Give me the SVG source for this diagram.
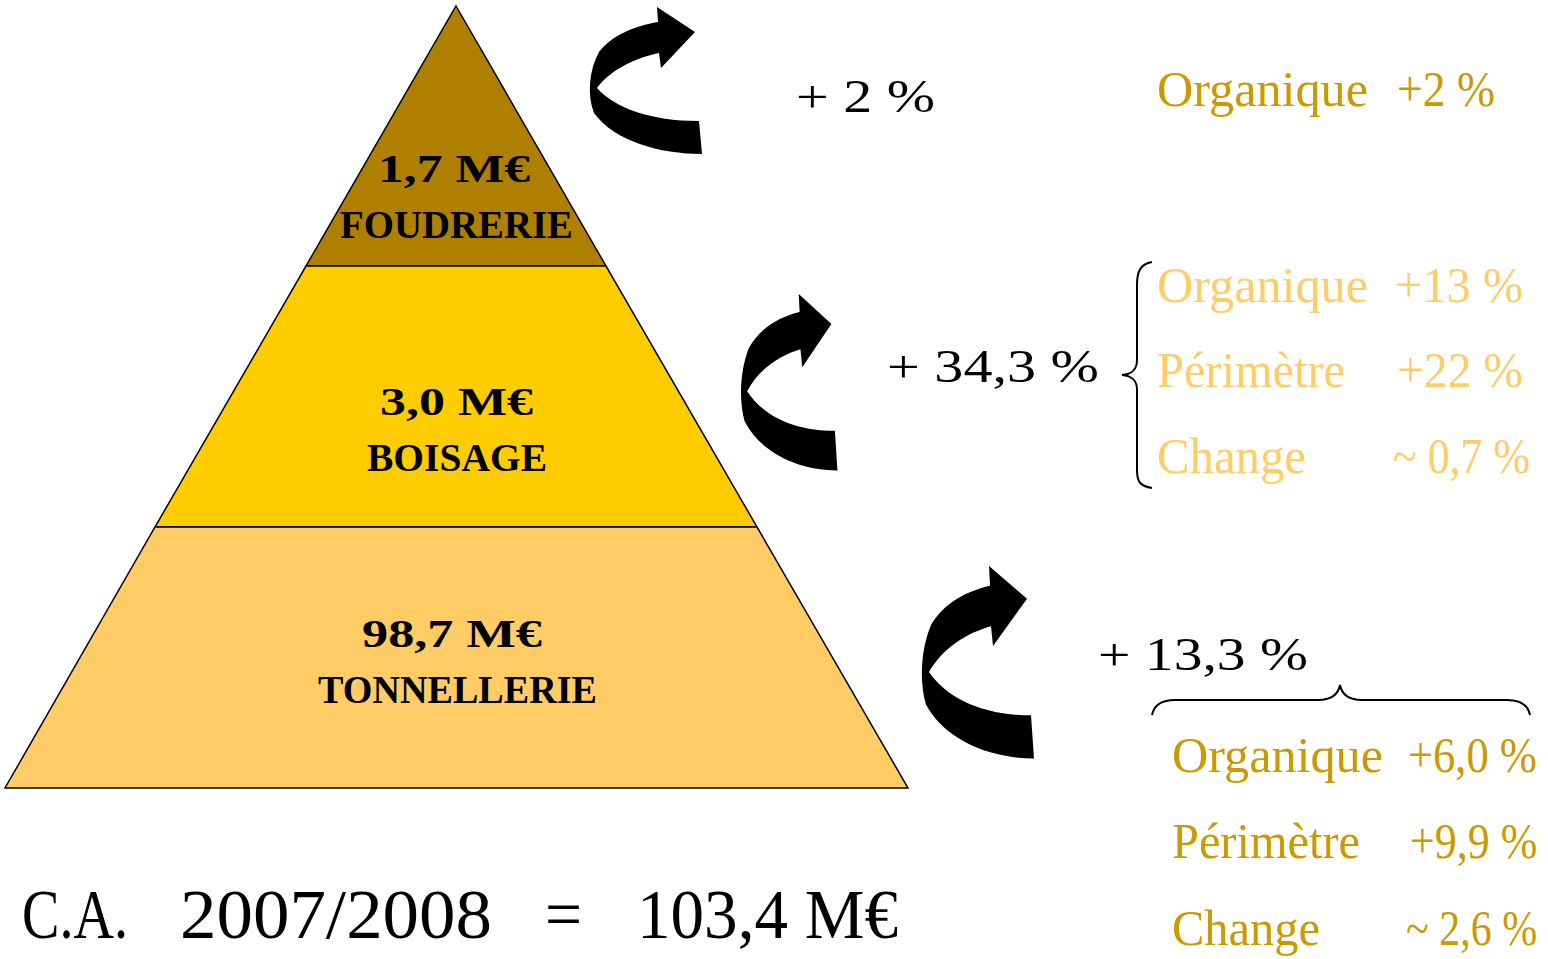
<svg xmlns="http://www.w3.org/2000/svg" xmlns:xlink="http://www.w3.org/1999/xlink" width="1548" height="959" viewBox="0 0 1548 959" xml:space="preserve">
<style>
.seg{stroke:#000;stroke-width:1.5;stroke-linejoin:miter}
.pt{font-family:"Liberation Serif",serif;font-size:41px;font-weight:bold;fill:#000}
.pct{font-family:"Liberation Serif",serif;font-size:46px;fill:#000}
.dk{font-family:"Liberation Serif",serif;font-size:50px;fill:#CC9900}
.lt{font-family:"Liberation Serif",serif;font-size:50px;fill:#FFCC66}
.tot{font-family:"Liberation Serif",serif;font-size:70px;fill:#000}
.brace{fill:none;stroke:#000;stroke-width:2}
.arr{fill:#000}
</style>
<defs>
<path id="arrow" d="M 702 154 C 660 154 614 141 594 113 C 587 95 589 70 599 52 C 612 35 635 26 658 22 L 657 7 L 695 32 L 661 68 L 659 53 C 635 58 610 70 597 88 C 615 108 650 121 699 121 Z"/>
</defs>
<rect width="1548" height="959" fill="#fff"/>
<g id="foudrerie">
<polygon class="seg" fill="#AF8000" points="456,6 606,266 306,266"/>
<text class="pt" x="378" y="182" textLength="152" lengthAdjust="spacingAndGlyphs">1,7  M€</text>
<text class="pt" x="340" y="238" textLength="233" lengthAdjust="spacingAndGlyphs">FOUDRERIE</text>
</g>
<g id="boisage">
<polygon class="seg" fill="#FFCC00" points="306,266 606,266 757,527 155,527"/>
<text class="pt" x="380" y="415" textLength="153" lengthAdjust="spacingAndGlyphs">3,0  M€</text>
<text class="pt" x="367" y="471" textLength="180" lengthAdjust="spacingAndGlyphs">BOISAGE</text>
</g>
<g id="tonnellerie">
<polygon class="seg" fill="#FFCC66" points="155,527 757,527 908,788 5,788"/>
<text class="pt" x="362" y="647" textLength="180" lengthAdjust="spacingAndGlyphs">98,7  M€</text>
<text class="pt" x="318" y="703" textLength="279" lengthAdjust="spacingAndGlyphs">TONNELLERIE</text>
</g>
<g id="connectors">
<use class="arr" xlink:href="#arrow" href="#arrow"/>
<use class="arr" xlink:href="#arrow" href="#arrow" transform="translate(742,294) scale(0.86,1.2) translate(-591,-7)"/>
<use class="arr" xlink:href="#arrow" href="#arrow" transform="translate(923,566) scale(1.0,1.31) translate(-591,-7)"/>
<path class="brace" d="M 1152 262 C 1140 264 1137 272 1137 285 L 1137 360 C 1137 370 1132 374 1122 375 C 1132 376 1137 380 1137 390 L 1137 470 C 1137 482 1140 486 1152 488"/>
<path class="brace" d="M 1152 715 C 1154 705 1162 700 1175 700 L 1318 700 C 1330 700 1338 695 1340 685 C 1342 695 1350 700 1362 700 L 1507 700 C 1520 700 1528 705 1530 715"/>
</g>
<g id="growth-foudrerie">
<text class="pct" x="796" y="112" textLength="139" lengthAdjust="spacingAndGlyphs">+ 2  %</text>
<text class="dk" x="1157" y="106" textLength="211" lengthAdjust="spacingAndGlyphs">Organique</text>
<text class="dk" x="1397" y="106" textLength="98" lengthAdjust="spacingAndGlyphs">+2 %</text>
</g>
<g id="growth-boisage">
<text class="pct" x="887" y="382" textLength="212" lengthAdjust="spacingAndGlyphs">+ 34,3  %</text>
<text class="lt" x="1157" y="302" textLength="211" lengthAdjust="spacingAndGlyphs">Organique</text>
<text class="lt" x="1395" y="302" textLength="128" lengthAdjust="spacingAndGlyphs">+13 %</text>
<text class="lt" x="1157" y="387" textLength="188" lengthAdjust="spacingAndGlyphs">Périmètre</text>
<text class="lt" x="1397" y="387" textLength="126" lengthAdjust="spacingAndGlyphs">+22 %</text>
<text class="lt" x="1157" y="473" textLength="149" lengthAdjust="spacingAndGlyphs">Change</text>
<text class="lt" x="1393" y="473" textLength="137" lengthAdjust="spacingAndGlyphs">~ 0,7 %</text>
</g>
<g id="growth-tonnellerie">
<text class="pct" x="1098" y="670" textLength="210" lengthAdjust="spacingAndGlyphs">+ 13,3  %</text>
<text class="dk" x="1172" y="772" textLength="211" lengthAdjust="spacingAndGlyphs">Organique</text>
<text class="dk" transform="translate(1408,772) scale(0.89,1)">+6,0 %</text>
<text class="dk" x="1172" y="858" textLength="188" lengthAdjust="spacingAndGlyphs">Périmètre</text>
<text class="dk" transform="translate(1410,858) scale(0.88,1)">+9,9 %</text>
<text class="dk" x="1172" y="945" textLength="148" lengthAdjust="spacingAndGlyphs">Change</text>
<text class="dk" transform="translate(1406,945) scale(0.84,1)">~ 2,6 %</text>
</g>
<g id="total">
<text class="tot" x="22" y="938" textLength="106" lengthAdjust="spacingAndGlyphs">C.A.</text>
<text class="tot" x="180" y="938" textLength="312" lengthAdjust="spacingAndGlyphs">2007/2008</text>
<text class="tot" x="545" y="938" textLength="37" lengthAdjust="spacingAndGlyphs">=</text>
<text class="tot" x="637" y="938" textLength="261" lengthAdjust="spacingAndGlyphs">103,4 M€</text>
</g>
</svg>
